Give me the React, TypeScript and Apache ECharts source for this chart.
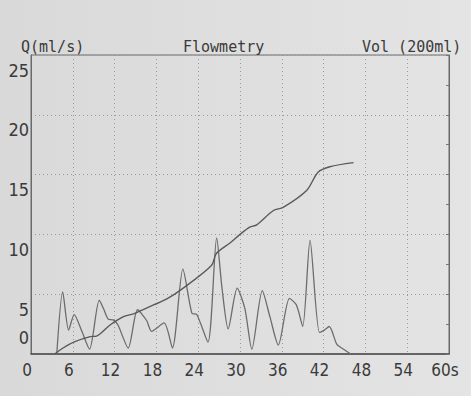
import React, { useEffect, useRef } from "react";
import * as echarts from "echarts";

// Flow curve Q (ml/s) over time (s)
const flowTime = [3.7, 4.55, 5.4, 6.2, 7.3, 8.4, 9.8, 10.4, 11.1, 11.8, 12.5, 13.95, 15.3, 16.6, 17.3, 19.1, 20.3, 21.8, 23.1, 23.8, 25.4, 26.65, 27.4, 28.3, 29.6, 30.7, 31.7, 33.2, 34.3, 35.5, 37.1, 38.1, 39.0, 40.05, 41.4, 42.1, 42.8, 43.9, 44.6, 45.9];
const flowValues = [0, 5.2, 2.0, 3.3, 1.9, 0.4, 4.5, 3.8, 2.9, 2.85, 2.4, 0.5, 3.7, 2.8, 1.9, 2.6, 0.5, 7.1, 3.4, 3.3, 1.0, 9.7, 5.6, 2.1, 5.5, 3.8, 0.4, 5.3, 3.1, 0.75, 4.65, 4.1, 2.3, 9.5, 1.8, 2.0, 2.3, 0.8, 0.5, 0];

// Voided volume (ml) over time (s)
const volTime = [3.4, 4.6, 6.3, 8.5, 9.4, 11.3, 13.2, 14.9, 17.6, 19.5, 21.6, 25.9, 26.6, 28.6, 30.0, 31.4, 32.4, 34.8, 36.2, 39.6, 41.2, 42.9, 46.3];
const volValues = [0, 5, 10.3, 14.5, 15, 24, 31, 34, 41, 46, 54, 74, 84, 93, 100, 106, 108, 120, 122.6, 137, 152, 156.6, 160];

// Axis settings
const xTicks = { min: 0, max: 60, step: 6, lastSuffix: "s" };
const qAxis = { min: 0, max: 25, step: 5 };
const volAxis = { min: 0, max: 250, step: 25 };

const headerTexts = { left: "Q(ml/s)", center: "Flowmetry", right: "Vol (200ml)" };

export default function App() {
  const ref = useRef<HTMLDivElement>(null);

  useEffect(() => {
    if (!ref.current) return;
    const chart = echarts.init(ref.current, null, { renderer: "svg" });
    const ink = "#3a3a3a";
    const labelFont = "'DejaVu Sans Condensed', sans-serif";
    const monoFont = "'DejaVu Sans Mono', 'Liberation Mono', monospace";
    const dotted = { color: "#9a9a9a", width: 1, type: [1, 3] as any };

    const titleStyle = { fontFamily: monoFont, fontSize: 15, fontWeight: "normal" as const, color: ink };

    chart.setOption({
      animation: false,
      backgroundColor: new echarts.graphic.LinearGradient(0, 0, 1, 0, [
        { offset: 0, color: "#d9d9d9" },
        { offset: 1, color: "#e4e4e4" },
      ]),
      title: [
        { text: headerTexts.left, left: 21, top: 39, padding: 0, textStyle: titleStyle },
        { text: headerTexts.center, left: 183, top: 39, padding: 0, textStyle: titleStyle },
        { text: headerTexts.right, left: 362, top: 39, padding: 0, textStyle: titleStyle },
      ],
      grid: {
        left: 31,
        right: 22,
        top: 55,
        bottom: 42,
        show: true,
        borderColor: "#6a6a6a",
        borderWidth: 1,
        containLabel: false,
      },
      xAxis: {
        type: "value",
        min: xTicks.min,
        max: xTicks.max,
        interval: xTicks.step,
        axisLine: { show: true, lineStyle: { color: "#505050", width: 1.6 } },
        axisTick: { show: false },
        splitLine: { show: true, lineStyle: dotted },
        axisLabel: {
          margin: 7,
          color: ink,
          fontFamily: labelFont,
          fontSize: 17,
          padding: [0, 8, 0, 0],
          formatter: (v: number) => (v === xTicks.max ? `${v}${xTicks.lastSuffix}` : `${v}`),
        },
      },
      yAxis: [
        {
          type: "value",
          min: qAxis.min,
          max: qAxis.max,
          interval: qAxis.step,
          axisLine: { show: true, lineStyle: { color: "#6a6a6a", width: 1 } },
          axisTick: { show: false },
          splitLine: { show: true, lineStyle: dotted },
          axisLabel: {
            margin: 2,
            color: ink,
            fontFamily: labelFont,
            fontSize: 18,
            formatter: (v: number) => (v === 0 ? `{z|${v}}` : `{n|${v}}`),
            rich: {
              n: { fontFamily: labelFont, fontSize: 18, color: ink, padding: [30, 0, 0, 0] },
              z: { fontFamily: labelFont, fontSize: 18, color: ink, padding: [0, 0, 34, 0] },
            },
          },
        },
        {
          type: "value",
          position: "right",
          min: volAxis.min,
          max: volAxis.max,
          interval: volAxis.step,
          axisLine: { show: true, lineStyle: { color: "#6a6a6a", width: 1 } },
          axisTick: { show: true, inside: true, length: 3, lineStyle: { color: "#777" } },
          axisLabel: { show: false },
          splitLine: { show: false },
        },
      ],
      series: [
        {
          type: "line",
          yAxisIndex: 0,
          data: flowTime.map((t, i) => [t, flowValues[i]]),
          smooth: 0.25,
          showSymbol: false,
          lineStyle: { color: "#6c6c6c", width: 1.3 },
        },
        {
          type: "line",
          yAxisIndex: 1,
          data: volTime.map((t, i) => [t, volValues[i]]),
          smooth: 0.3,
          showSymbol: false,
          lineStyle: { color: "#5a5a5a", width: 1.4 },
        },
      ],
    });
    return () => chart.dispose();
  }, []);

  return <div ref={ref} style={{ position: "fixed", left: 0, top: 0, width: 471, height: 396 }} />;
}
